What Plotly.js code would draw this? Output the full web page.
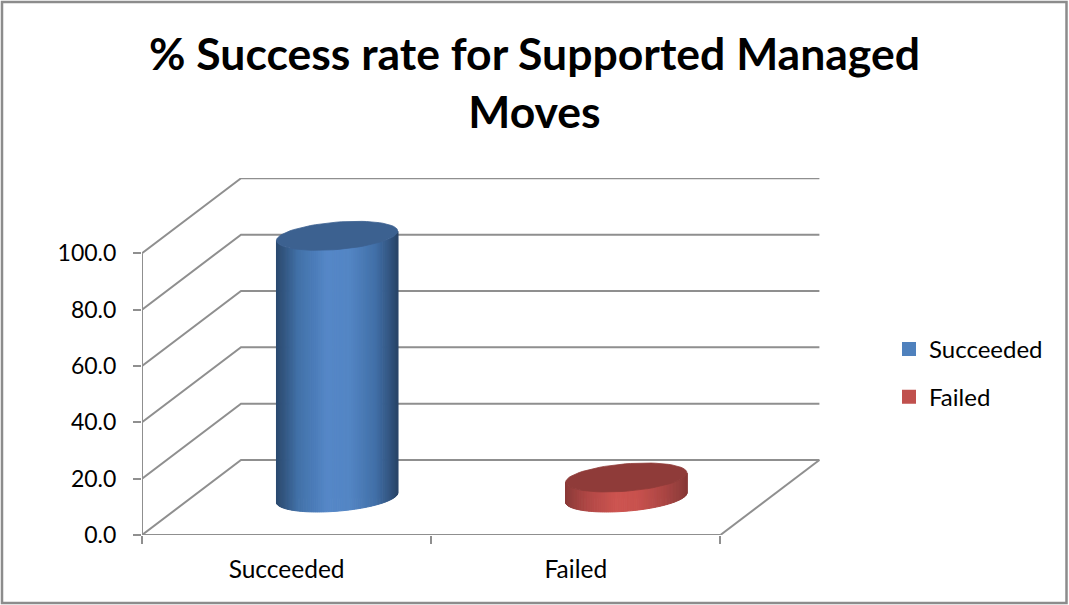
<!DOCTYPE html>
<html><head><meta charset="utf-8">
<script src="https://cdn.plot.ly/plotly-3.0.1.min.js"></script>
<style>html,body{margin:0;padding:0;background:#fff;overflow:hidden}#c{width:1069px;height:605px}</style>
</head><body><div id="c"></div>
<script>
// ---- chart values ----
const chartTitle = "% Success rate for Supported Managed<br>Moves";
const categories = ["Succeeded", "Failed"];
const seriesNames = ["Succeeded", "Failed"];
const values = [92.9, 7.1];
const yTickVals = [0, 20, 40, 60, 80, 100];
const yTickText = ["0.0", "20.0", "40.0", "60.0", "80.0", "100.0"];

// ---- styles ----
const FONT = "Lato, 'Open Sans', sans-serif";
const GRID = "#8f8f8f";
const legendColors = ["#4f81bd", "#c0504d"];
const topColors = ["#3c6190", "#8f3b39"];
const gradientStops = [
  [[0, [44, 74, 112]], [0.06, [50, 84, 126]], [0.18, [66, 113, 168]], [0.42, [85, 135, 199]], [0.6, [84, 134, 197]], [0.82, [66, 112, 168]], [0.94, [50, 84, 128]], [1, [42, 70, 106]]],
  [[0, [138, 58, 56]], [0.06, [150, 62, 60]], [0.18, [176, 72, 70]], [0.42, [205, 84, 80]], [0.6, [200, 82, 78]], [0.82, [170, 70, 68]], [0.94, [148, 62, 60]], [1, [136, 56, 54]]]
];

// ---- oblique 3D geometry, in axis units ----
const xMin = -0.5, xMax = 1.5;
const pxPerX = 289.2, pxPerY = 2.817, plotW = 680, plotH = 357;
const depthX = 99 / pxPerX, depthY = 75 / pxPerY;
const A = 57.3 / pxPerX, B = 19.8 / pxPerX, C = 14.5 / pxPerY;
const N = 90;

function mix(stops, f) {
  for (let i = 1; i < stops.length; i++) {
    if (f <= stops[i][0]) {
      const [f0, c0] = stops[i - 1], [f1, c1] = stops[i];
      const k = (f - f0) / (f1 - f0);
      return "rgb(" + c0.map((c, j) => Math.round(c + (c1[j] - c) * k)).join(",") + ")";
    }
  }
  return "rgb(" + stops[stops.length - 1][1].join(",") + ")";
}

const traces = [];

// Real value bars (carry the legend); the shaded cylinder is laid over them
values.forEach((v, i) => {
  traces.push({
    type: "bar", name: seriesNames[i], x: [i], y: [v], base: [depthY * 0.5],
    width: [0.3], offset: [depthX * 0.505 - 0.15],
    marker: { color: legendColors[i], line: { color: legendColors[i], width: 2 } },
    legendgroup: seriesNames[i], hoverinfo: "skip"
  });
});

// Walls and floor
const gx = [], gy = [];
yTickVals.forEach(v => {
  gx.push(xMin, xMin + depthX, xMax + depthX, null);
  gy.push(v, v + depthY, v + depthY, null);
});
gx.push(xMax, xMax + depthX, null);
gy.push(0, depthY, null);
traces.push({ type: "scatter", mode: "lines", x: gx, y: gy, line: { color: GRID, width: 2 }, showlegend: false, hoverinfo: "skip", cliponaxis: false });
// axis lines
traces.push({ type: "scatter", mode: "lines", x: [xMin, xMin, null, xMin, xMax], y: [yTickVals[yTickVals.length - 1], 0, null, 0, 0], line: { color: GRID, width: 2 }, showlegend: false, hoverinfo: "skip", cliponaxis: false });

// Cylinders
values.forEach((v, i) => {
  const cx = i + depthX * 0.51, yb = depthY * 0.5, yt = yb + v;
  const t0 = Math.atan2(B, A), R = Math.hypot(A, B);
  const px = t => cx + A * Math.cos(t) + B * Math.sin(t);
  const py = (t, c) => c + C * Math.sin(t);
  const tStart = t0 - Math.PI;
  for (let k = 0; k < N; k++) {
    // front half runs from the left tangent to the right tangent
    const u0 = tStart + Math.PI * k / N, u1 = tStart + Math.PI * (k + 1) / N;
    const f = (0.5 * (px(u0) + px(u1)) - (cx - R)) / (2 * R);
    const col = mix(gradientStops[i], f);
    traces.push({
      type: "scatter", mode: "lines", fill: "toself", fillcolor: col,
      x: [px(u0), px(u1), px(u1), px(u0), px(u0)],
      y: [py(u0, yb), py(u1, yb), py(u1, yt), py(u0, yt), py(u0, yb)],
      line: { color: col, width: 1 }, showlegend: false, hoverinfo: "skip"
    });
  }
  const ex = [], ey = [];
  for (let k = 0; k <= 72; k++) { const t = 2 * Math.PI * k / 72; ex.push(px(t)); ey.push(py(t, yt)); }
  traces.push({
    type: "scatter", mode: "lines", fill: "toself", fillcolor: topColors[i], x: ex, y: ey,
    line: { color: topColors[i], width: 0.8 }, showlegend: false, hoverinfo: "skip"
  });
});

const pxX = p => (p - 142) / plotW, pxY = p => (535 - p) / plotH;

const layout = {
  width: 1069, height: 605, autosize: false,
  margin: { l: 142, r: 1069 - 142 - plotW, t: 605 - 70 - plotH, b: 70, pad: 0 },
  paper_bgcolor: "#ffffff", plot_bgcolor: "rgba(0,0,0,0)",
  font: { family: FONT, color: "#000000", size: 22 },
  showlegend: true,
  title: {
    text: chartTitle, font: { family: FONT, size: 44.5, color: "#000000", weight: 700 },
    xref: "container", x: 0.5, xanchor: "center", yref: "container", y: 0.884, yanchor: "top"
  },
  bargap: 0,
  xaxis: {
    type: "linear", range: [xMin, xMin + plotW / pxPerX], fixedrange: true,
    showgrid: false, zeroline: false, showline: false,
    tickmode: "array", tickvals: categories.map((_, i) => i), ticktext: categories,
    ticks: "outside", ticklen: 8, tickcolor: "rgba(0,0,0,0)", tickwidth: 1,
    tickfont: { family: FONT, size: 24.5, color: "#000000" }, ticklabelstandoff: 5,
    minor: { tickmode: "array", tickvals: [-0.5, 0.5, 1.5], ticks: "outside", ticklen: 8, tickcolor: GRID, tickwidth: 2, showgrid: false }
  },
  yaxis: {
    type: "linear", range: [0, plotH / pxPerY], fixedrange: true,
    showgrid: false, zeroline: false, showline: false,
    tickmode: "array", tickvals: yTickVals, ticktext: yTickText,
    ticks: "outside", ticklen: 8, tickcolor: GRID, tickwidth: 2,
    tickfont: { family: FONT, size: 23, color: "#000000" }, ticklabelstandoff: 12
  },
  legend: {
    x: pxX(889), xanchor: "left", y: pxY(327), yanchor: "top", xref: "paper", yref: "paper",
    font: { family: FONT, size: 24, color: "#000000" }, tracegroupgap: 13.5,
    bgcolor: "rgba(0,0,0,0)", borderwidth: 0, itemclick: false, itemdoubleclick: false, itemwidth: 30
  },
  shapes: [{
    type: "rect", xref: "paper", yref: "paper", layer: "above",
    x0: pxX(2), x1: pxX(1066.5), y0: pxY(603), y1: pxY(2),
    line: { color: "#8c8c8c", width: 2.5 }, fillcolor: "rgba(0,0,0,0)"
  }]
};

Plotly.newPlot("c", traces, layout, { displayModeBar: false, staticPlot: true, responsive: false });
</script>
</body></html>
